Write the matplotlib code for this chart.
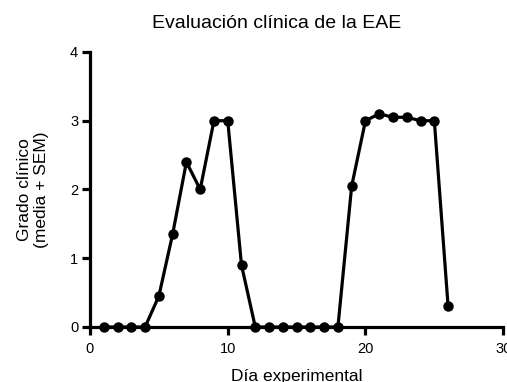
import matplotlib.pyplot as plt

plt.rcParams['font.family'] = ['Liberation Sans', 'DejaVu Sans']

dias = list(range(1, 27))
grado = [0, 0, 0, 0, 0.45, 1.35, 2.4, 2.0, 3.0, 3.0, 0.9, 0, 0, 0, 0, 0, 0, 0,
         2.05, 3.0, 3.1, 3.05, 3.05, 3.0, 3.0, 0.3]
xticks = [0, 10, 20, 30]
yticks = [0, 1, 2, 3, 4]

fig = plt.figure(figsize=(5.07, 3.82), dpi=100)
ax = fig.add_axes([0.1775, 0.144, 0.815, 0.72])

ax.plot(dias, grado, '-o', color='black', lw=2.3, ms=6.5, clip_on=False, zorder=3)

ax.set_xlim(0, 30)
ax.set_ylim(0, 4)
ax.set_xticks(xticks)
ax.set_yticks(yticks)
for s in ['top', 'right']:
    ax.spines[s].set_visible(False)
for s in ['left', 'bottom']:
    ax.spines[s].set_linewidth(2.3)
ax.tick_params(width=2.3, length=6, labelsize=10.5)
ax.tick_params(axis='x', pad=5)
ax.tick_params(axis='y', pad=2.5)

fig.text(277 / 507, 1 - 23 / 382, 'Evaluación clínica de la EAE',
         fontsize=14, ha='center', va='center')
ax.set_xlabel('Día experimental', fontsize=12.5, labelpad=9)
ax.set_ylabel('Grado clínico\n(media + SEM)', fontsize=12.5, labelpad=15)

fig.savefig('out.png', dpi=100)
